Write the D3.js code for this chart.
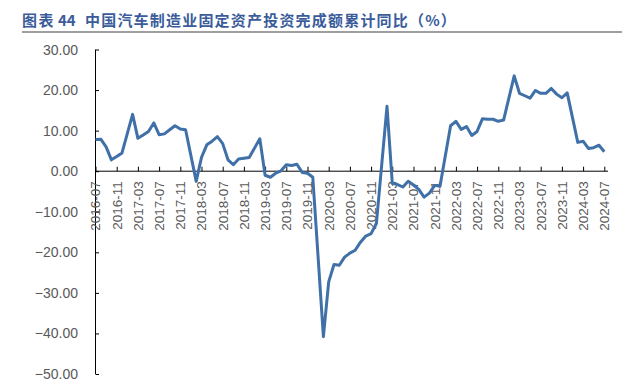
<!DOCTYPE html>
<html>
<head>
<meta charset="utf-8">
<script src="https://cdn.jsdelivr.net/npm/d3@7"></script>
<style>
  html, body { margin: 0; padding: 0; background: #fff; }
  svg { display: block; }
</style>
</head>
<body>
<svg id="chart" width="644" height="387"></svg>
<script>
// ---- data ----
const titlePrefix = "图表";
const titleNumber = "44";
const titleText = "中国汽车制造业固定资产投资完成额累计同比（%）";

const months = [
  "2016-07","2016-08","2016-09","2016-10","2016-11","2016-12",
  "2017-02","2017-03","2017-04","2017-05","2017-06","2017-07","2017-08","2017-09","2017-10","2017-11","2017-12",
  "2018-02","2018-03","2018-04","2018-05","2018-06","2018-07","2018-08","2018-09","2018-10","2018-11","2018-12",
  "2019-02","2019-03","2019-04","2019-05","2019-06","2019-07","2019-08","2019-09","2019-10","2019-11","2019-12",
  "2020-02","2020-03","2020-04","2020-05","2020-06","2020-07","2020-08","2020-09","2020-10","2020-11","2020-12",
  "2021-02","2021-03","2021-04","2021-05","2021-06","2021-07","2021-08","2021-09","2021-10","2021-11","2021-12",
  "2022-02","2022-03","2022-04","2022-05","2022-06","2022-07","2022-08","2022-09","2022-10","2022-11","2022-12",
  "2023-02","2023-03","2023-04","2023-05","2023-06","2023-07","2023-08","2023-09","2023-10","2023-11","2023-12",
  "2024-02","2024-03","2024-04","2024-05","2024-06","2024-07"
];
const values = [
  7.8, 7.9, 6.0, 2.8, 3.6, 4.5,
  14.0, 8.1, 8.9, 9.8, 11.9, 9.0, 9.2, 10.2, 11.2, 10.4, 10.2,
  -2.5, 3.4, 6.5, 7.4, 8.5, 6.8, 2.8, 1.6, 3.0, 3.2, 3.4,
  8.0, -1.0, -1.5, -0.5, 0.1, 1.6, 1.4, 1.7, -0.3, -0.5, -1.5,
  -40.8, -27.3, -23.0, -23.2, -21.2, -20.2, -19.5, -17.5, -16.0, -15.4, -12.9,
  16.0, -3.0, -3.3, -3.9, -2.5, -3.4, -4.5, -6.4, -5.4, -3.5, -3.7,
  11.2, 12.3, 10.3, 11.0, 8.8, 9.8, 12.9, 12.8, 12.8, 12.3, 12.6,
  23.5, 19.2, 18.6, 18.0, 19.9, 19.2, 19.2, 20.4, 19.0, 18.1, 19.3,
  7.1, 7.4, 5.6, 5.8, 6.4, 4.8
];
const xTickLabels = [
  "2016-07","2016-11","2017-03","2017-07","2017-11","2018-03","2018-07","2018-11",
  "2019-03","2019-07","2019-11","2020-03","2020-07","2020-11","2021-03","2021-07",
  "2021-11","2022-03","2022-07","2022-11","2023-03","2023-07","2023-11","2024-03","2024-07"
];
const yTicks = [30, 20, 10, 0, -10, -20, -30, -40, -50];

// ---- helpers ----
const monthIndex = s => {
  const [y, m] = s.split("-").map(Number);
  return (y - 2016) * 12 + (m - 7);
};
const data = months.map((m, i) => ({ t: monthIndex(m), v: values[i] }));

// ---- layout ----
const svg = d3.select("#chart");
const x = d3.scaleLinear().domain([0, 96.7]).range([95.5, 608]);
const y = d3.scaleLinear().domain([-50, 30]).range([374, 49.5]);

const labelColor = "#595959";
const axisColor = "#000";
const font = "'Liberation Sans', Arial, sans-serif";

// title
const title = svg.append("text")
  .attr("y", 25.5)
  .attr("font-family", "'Noto Sans CJK SC', sans-serif")
  .attr("font-size", 15)
  .attr("font-weight", "bold")
  .attr("fill", "#3b5c9b");
title.append("tspan").attr("x", 22).attr("letter-spacing", 1.5).text(titlePrefix);
title.append("tspan").attr("x", 58).text(titleNumber);
title.append("tspan").attr("x", 85).attr("letter-spacing", 1.2).text(titleText);

svg.append("line")
  .attr("x1", 22).attr("x2", 622)
  .attr("y1", 32).attr("y2", 32)
  .attr("stroke", "#7f7f7f").attr("stroke-width", 1.5);

// y axis
const yAxis = d3.axisRight(y).tickValues(yTicks).tickSize(3.5).tickFormat("");
const yg = svg.append("g").attr("transform", `translate(${x(0)},0)`).call(yAxis);
yg.select(".domain").remove();
yg.selectAll(".tick line").attr("stroke", axisColor);
svg.append("line")
  .attr("x1", x(0)).attr("x2", x(0))
  .attr("y1", y(30)).attr("y2", y(-50))
  .attr("stroke", axisColor).attr("stroke-width", 1);

svg.append("g").selectAll("text")
  .data(yTicks).join("text")
  .attr("x", 78)
  .attr("y", d => y(d))
  .attr("dy", "0.36em")
  .attr("text-anchor", "end")
  .attr("font-family", font)
  .attr("font-size", 14)
  .attr("fill", labelColor)
  .text(d => d3.format(".2f")(d));

// x axis at zero
const tickIdx = xTickLabels.map(monthIndex);
const xAxis = d3.axisTop(x).tickValues(tickIdx).tickSize(4.5).tickFormat("");
const xg = svg.append("g").attr("transform", `translate(0,${y(0)})`).call(xAxis);
xg.select(".domain").remove();
xg.selectAll(".tick line").attr("stroke", axisColor);
svg.append("line")
  .attr("x1", x(0)).attr("x2", x(96.7))
  .attr("y1", y(0)).attr("y2", y(0))
  .attr("stroke", axisColor).attr("stroke-width", 1);

svg.append("g").selectAll("text")
  .data(xTickLabels).join("text")
  .attr("transform", d => `translate(${x(monthIndex(d))},${y(0) + 10}) rotate(-90)`)
  .attr("dy", "0.36em")
  .attr("text-anchor", "end")
  .attr("font-family", font)
  .attr("font-size", 13.5)
  .attr("fill", labelColor)
  .text(d => d);

// line
const line = d3.line().x(d => x(d.t)).y(d => y(d.v));
svg.append("path")
  .datum(data)
  .attr("d", line)
  .attr("fill", "none")
  .attr("stroke", "#4070a8")
  .attr("stroke-width", 3)
  .attr("stroke-linejoin", "round");
</script>
</body>
</html>
